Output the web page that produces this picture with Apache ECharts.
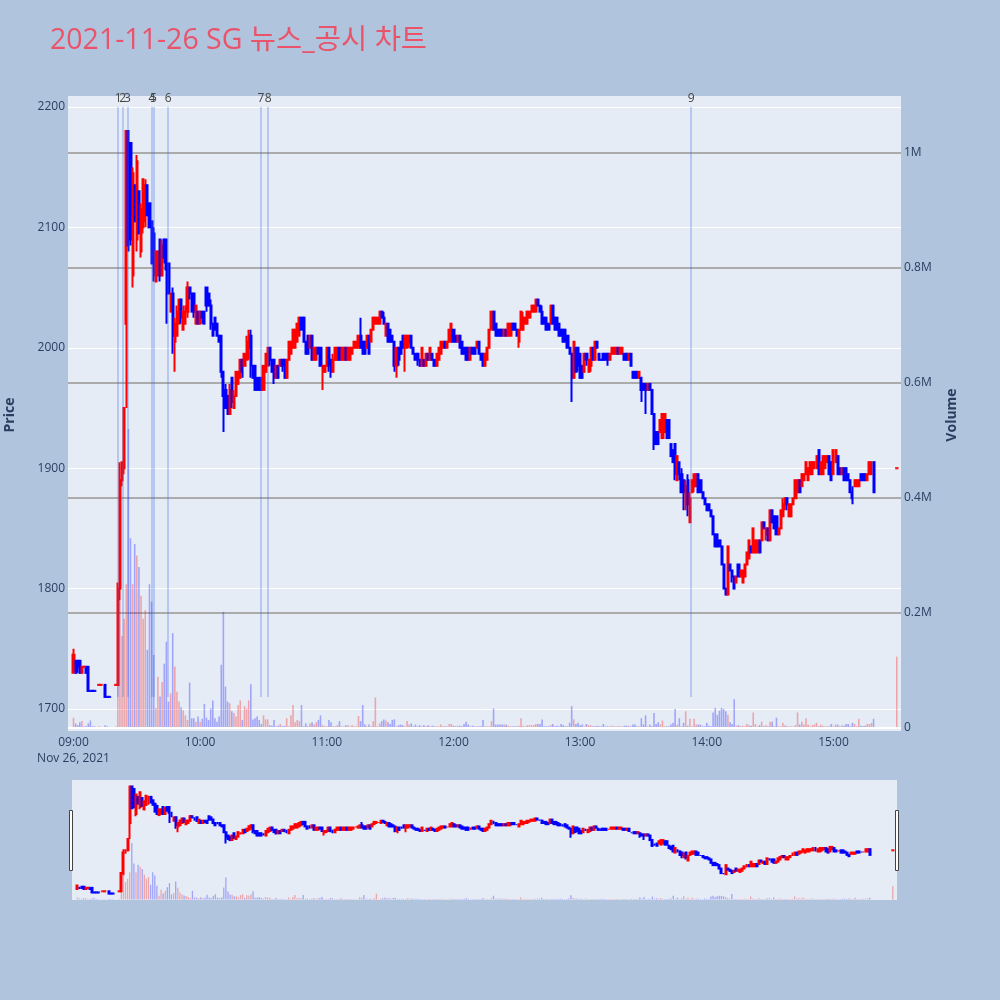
<!DOCTYPE html>
<html><head><meta charset="utf-8">
<script src="https://cdn.jsdelivr.net/npm/echarts@6/dist/echarts.min.js"></script>
<style>html,body{margin:0;padding:0;background:#B0C4DE;}#c{width:1000px;height:1000px;}</style>
</head><body><div id="c"></div>
<script>
// ---- DATA (one entry per minute from 09:00; null = no trade that minute) ----
const chartTitle = '2021-11-26 SG 뉴스_공시 차트';
const dateLabel = 'Nov 26, 2021';
const hourTickMinutes = [0, 60, 120, 180, 240, 300, 360];
const newsMinutes = [21.2, 23.3, 25.5, 37.2, 37.9, 44.8, 88.8, 92.2, 292.6];
const newsLabels = ['1', '2', '3', '4', '5', '6', '7', '8', '9'];
const newsLineLow = 1710, newsLineHigh = 2200;

const openPrice = [
1730,1740,1740,1740,1730,1735,1735,1735,1715,1715,
1715,null,1720,1720,null,1720,1710,1710,null,null,
1720,1720,1800,1890,1900,2020,2180,2170,2060,2135,
2090,2130,2080,2100,2105,2135,2120,2105,2095,2055,
2060,2090,2060,2090,2090,2070,2030,2045,2005,2010,
2020,2040,2015,2020,2030,2050,2045,2045,2020,2030,
2020,2030,2030,2050,2045,2035,2020,2025,2020,2010,
2010,1980,1965,1960,1945,1975,1950,1960,1970,1975,
1990,1985,1990,2000,2010,1985,1985,1975,1975,1975,
1965,1980,1985,2000,1990,1990,1975,1985,1985,1990,
1990,1975,1990,1995,2000,2000,2005,2010,2025,2025,
2005,2010,2000,2010,1990,1990,2000,2000,1980,1980,
1985,2000,1990,1980,1990,1990,2000,1990,1990,2000,
1990,1990,1995,2000,2000,2000,2010,2005,2005,2000,
2010,2005,2015,2020,2020,2020,2030,2025,2010,2020,
2015,2010,2005,1985,2000,2005,2010,2000,2000,2005,
2010,2000,1995,1995,1990,1985,1990,1985,1995,1990,
1995,1990,1985,1990,1995,2000,2005,2000,2005,2005,
2015,2010,2005,2010,2005,2000,2000,2000,1990,2000,
2000,2000,2005,1995,1995,1985,1990,2000,2015,2030,
2020,2015,2015,2015,2010,2015,2010,2010,2020,2020,
2015,2005,2015,2015,2020,2020,2025,2030,2030,2030,
2040,2035,2030,2025,2025,2020,2020,2035,2025,2025,
2020,2015,2015,2015,2010,2000,1995,1975,2000,2000,
1995,1985,1980,1995,1980,1985,2000,1990,2005,1995,
1990,1995,1995,1995,1990,1995,1995,1995,2000,1995,
1995,1995,1995,1990,1995,1980,1980,1980,1975,1975,
1970,1970,1965,1970,1965,1945,1930,1930,1930,1925,
1930,1940,1940,1920,1915,1920,1890,1905,1895,1890,
1870,1890,1855,1880,1885,1885,1895,1890,1880,1875,
1870,1870,1865,1860,1845,1845,1840,1835,1820,1800,
1795,1820,1815,1810,1805,1820,1810,1805,1810,1820,
1825,1835,1830,1830,1830,1840,1840,1855,1845,1850,
1840,1865,1860,1860,1845,1850,1860,1870,1875,1860,
1860,1870,1875,1880,1890,1885,1890,1895,1890,1895,
1895,1900,1900,1915,1895,1895,1900,1905,1910,1905,
1895,1905,1910,1900,1895,1900,1900,1895,1890,1880,
1885,1885,1885,1895,1895,1895,1890,1895,1895,1905,
null,null,null,null,null,null,null,null,null,null,
1900];

const highPrice = [
1750,1740,1740,1740,1735,1735,1735,1735,1715,1715,
1715,null,1720,1720,null,1720,1710,1710,null,null,
1720,1805,1905,1905,1950,2180,2180,2170,2150,2135,
2160,2130,2120,2140,2140,2135,2120,2105,2100,2080,
2080,2090,2090,2090,2090,2070,2045,2050,2025,2035,
2040,2040,2035,2035,2055,2050,2045,2045,2035,2030,
2030,2030,2030,2050,2045,2040,2020,2025,2020,2010,
2010,1980,1970,1960,1970,1975,1965,1980,1980,1990,
1990,1995,2010,2015,2015,1985,1985,1975,1975,1975,
1985,1995,2000,2000,1990,1990,1985,1985,1990,1990,
1990,1990,2005,2005,2015,2015,2020,2025,2025,2025,
2005,2010,2010,2010,2000,2000,2000,2000,1985,1985,
2000,2000,1990,1995,2000,2000,2000,2000,2000,2000,
2000,2000,2000,2005,2005,2010,2025,2005,2005,2010,
2010,2015,2025,2025,2025,2030,2030,2030,2020,2020,
2015,2010,2005,2000,2000,2005,2010,2010,2010,2010,
2010,2000,1995,1995,1990,2000,1990,1995,1995,2000,
1995,1990,1995,2000,2005,2005,2005,2005,2015,2020,
2015,2010,2010,2010,2005,2000,2000,2000,2000,2000,
2000,2005,2005,1995,1995,1995,2000,2015,2030,2030,
2020,2015,2015,2015,2015,2015,2020,2020,2020,2020,
2015,2015,2030,2030,2025,2030,2030,2035,2035,2040,
2040,2035,2035,2025,2025,2020,2035,2035,2025,2025,
2020,2015,2015,2015,2010,2000,1995,2005,2000,2000,
1995,1985,1995,1995,1990,2000,2000,2005,2005,1995,
1990,1995,1995,1995,1995,2000,2000,2000,2000,2000,
2000,1995,1995,1995,1995,1980,1980,1980,1980,1975,
1970,1970,1970,1970,1965,1945,1930,1930,1940,1945,
1945,1940,1940,1920,1915,1920,1910,1905,1900,1890,
1890,1895,1880,1890,1895,1895,1895,1890,1880,1875,
1870,1870,1865,1860,1845,1845,1840,1835,1820,1800,
1835,1820,1815,1810,1810,1820,1815,1815,1820,1830,
1840,1835,1850,1840,1840,1840,1855,1855,1850,1850,
1865,1865,1860,1860,1850,1865,1875,1875,1875,1870,
1870,1875,1890,1890,1890,1895,1895,1905,1900,1905,
1905,1905,1910,1915,1905,1910,1910,1910,1910,1905,
1915,1915,1910,1900,1900,1900,1900,1895,1890,1885,
1890,1890,1890,1895,1895,1895,1895,1905,1905,1905,
null,null,null,null,null,null,null,null,null,null,
1900];

const lowPrice = [
1730,1730,1730,1730,1730,1735,1730,1715,1715,1715,
1715,null,1720,1720,null,1710,1710,1710,null,null,
1720,1720,1790,1885,1895,1950,2080,2085,2050,2105,
2080,2095,2075,2095,2100,2110,2100,2070,2055,2055,
2060,2055,2060,2070,2020,2045,2030,1995,1980,2010,
2020,2020,2015,2020,2025,2040,2030,2025,2020,2020,
2020,2020,2020,2030,2035,2015,2010,2015,2010,2005,
1975,1930,1950,1945,1945,1950,1950,1960,1970,1975,
1975,1985,1990,1990,1975,1975,1965,1965,1965,1965,
1965,1980,1985,1985,1980,1970,1975,1975,1985,1980,
1975,1975,1990,1995,2000,2000,2005,2010,2015,2005,
1995,1995,2000,1990,1990,1990,1995,1985,1965,1980,
1985,1980,1975,1980,1990,1990,1990,1990,1990,1990,
1990,1990,1995,2000,2000,2000,2000,1995,1995,2000,
1995,2005,2015,2020,2020,2020,2025,2020,2010,2005,
2005,2005,1980,1975,1985,1995,2000,1980,2000,2000,
2000,1995,1990,1985,1985,1985,1985,1985,1990,1990,
1990,1985,1985,1990,1995,2000,2000,2000,2005,2005,
2005,2005,2005,2000,1995,1995,1990,1990,1990,1995,
1995,2000,1995,1990,1985,1985,1990,2000,2015,2015,
2010,2010,2010,2010,2010,2010,2010,2010,2015,2015,
2010,2000,2015,2015,2020,2020,2025,2030,2030,2030,
2035,2030,2020,2020,2015,2015,2020,2020,2015,2015,
2010,2010,2005,2005,2000,1995,1955,1975,1980,1980,
1975,1975,1980,1985,1980,1980,1990,1990,2000,1990,
1990,1990,1990,1985,1990,1995,1995,1995,1995,1995,
1995,1990,1990,1990,1985,1975,1975,1975,1975,1955,
1965,1945,1965,1965,1945,1915,1920,1920,1930,1925,
1930,1925,1925,1910,1905,1890,1890,1890,1880,1865,
1865,1860,1855,1880,1880,1885,1880,1880,1875,1870,
1865,1865,1860,1845,1835,1835,1835,1820,1800,1795,
1795,1815,1805,1800,1805,1810,1810,1805,1810,1820,
1825,1830,1830,1830,1830,1830,1840,1850,1840,1840,
1840,1855,1850,1845,1845,1850,1860,1865,1865,1860,
1860,1870,1875,1880,1880,1885,1890,1895,1890,1895,
1895,1900,1900,1895,1895,1895,1900,1905,1895,1890,
1895,1905,1895,1895,1895,1890,1890,1890,1880,1870,
1885,1885,1885,1890,1890,1890,1890,1895,1895,1880,
null,null,null,null,null,null,null,null,null,null,
1900];

const closePrice = [
1745,1730,1735,1730,1735,1735,1730,1715,1715,1715,
1715,null,1720,1720,null,1710,1710,1710,null,null,
1720,1800,1890,1905,1950,2180,2085,2090,2145,2105,
2155,2095,2115,2140,2135,2110,2100,2070,2060,2080,
2080,2060,2085,2075,2065,2045,2045,2010,2020,2030,
2040,2025,2030,2030,2050,2045,2030,2030,2035,2020,
2030,2025,2020,2035,2035,2020,2010,2015,2010,2005,
1980,1960,1950,1945,1965,1955,1960,1980,1980,1990,
1980,1995,2005,2010,1985,1975,1965,1965,1965,1965,
1985,1995,2000,1990,1980,1975,1985,1975,1990,1985,
1975,1990,2005,2005,2015,2015,2020,2025,2015,2005,
1995,1995,2010,1990,2000,2000,1995,1985,1985,1985,
2000,1985,1980,1990,2000,2000,1990,2000,2000,1990,
2000,2000,2000,2005,2005,2010,2000,1995,1995,2010,
1995,2015,2025,2025,2025,2030,2025,2020,2020,2005,
2005,2005,1985,2000,1990,1995,2000,2010,2010,2010,
2000,1995,1990,1990,1985,2000,1985,1995,1990,2000,
1990,1985,1995,2000,2005,2005,2000,2005,2015,2020,
2005,2005,2010,2000,1995,1995,1990,1990,2000,1995,
1995,2005,1995,1990,1985,1995,2000,2015,2030,2015,
2010,2010,2010,2010,2015,2010,2020,2020,2015,2015,
2010,2015,2030,2025,2025,2030,2030,2035,2035,2040,
2035,2030,2020,2020,2015,2015,2035,2020,2015,2015,
2010,2010,2005,2005,2000,1995,1975,2005,1980,1985,
1975,1975,1995,1990,1990,2000,1990,2005,2000,1990,
1990,1990,1990,1990,1995,2000,2000,2000,1995,2000,
2000,1990,1990,1995,1985,1975,1975,1975,1980,1965,
1965,1965,1970,1965,1945,1920,1920,1920,1940,1945,
1945,1925,1925,1910,1905,1895,1910,1895,1880,1880,
1885,1870,1875,1890,1895,1895,1880,1880,1875,1870,
1865,1865,1860,1845,1835,1835,1835,1820,1800,1795,
1835,1815,1810,1800,1810,1810,1815,1815,1820,1830,
1840,1830,1850,1840,1840,1830,1855,1850,1850,1840,
1865,1855,1850,1845,1850,1865,1870,1875,1870,1870,
1870,1875,1890,1890,1880,1895,1895,1905,1900,1905,
1905,1905,1910,1895,1905,1910,1910,1910,1895,1890,
1915,1915,1895,1895,1900,1890,1890,1890,1880,1875,
1890,1890,1890,1890,1890,1890,1895,1905,1905,1880,
null,null,null,null,null,null,null,null,null,null,
1900];

const volumeThousands = [
18,8,5,10,12,3,3,8,13,3,
3,null,3,2,null,5,3,2,null,null,
3,180,220,160,190,250,520,330,250,320,
300,280,230,190,205,136,250,220,127,35,
89,55,80,112,150,46,60,165,107,63,
46,36,31,22,14,79,17,17,11,20,
11,16,42,18,14,34,48,17,11,20,
110,202,72,46,43,29,26,20,40,48,
14,38,34,48,76,15,17,20,14,7,
22,15,15,5,4,14,3,4,7,3,
4,17,3,22,40,10,14,12,40,3,
8,3,8,10,6,10,14,22,5,3,
3,14,10,3,3,5,12,3,3,5,
5,3,5,3,3,21,12,40,6,3,
6,3,12,53,3,8,12,15,13,10,
7,14,15,3,5,6,5,3,12,6,
8,3,6,3,5,3,5,3,5,3,
4,3,3,3,6,3,3,3,7,7,
4,3,4,4,3,7,11,6,3,4,
3,3,3,3,14,3,3,3,12,34,
6,6,6,6,6,6,4,3,3,3,
3,4,17,4,3,5,5,5,5,7,
7,7,15,3,3,3,5,7,3,4,
3,7,5,3,3,9,38,15,7,9,
5,6,3,7,5,5,3,3,4,3,
3,7,3,3,3,4,3,3,3,3,
3,4,4,4,3,6,6,3,3,17,
6,22,3,6,3,26,7,10,6,13,
3,3,3,6,9,33,6,17,3,9,
29,4,16,3,16,6,6,6,3,3,
9,4,3,27,35,23,30,35,33,29,
23,10,7,50,4,5,3,4,3,7,
5,4,27,7,3,5,11,3,5,3,
11,11,3,18,3,3,9,5,3,3,
3,3,5,27,6,11,6,17,6,3,
5,6,9,3,6,4,3,3,3,7,
3,6,6,3,5,4,7,7,3,9,
7,3,16,4,3,4,7,7,9,16,
null,null,null,null,null,null,null,null,null,null,
124];

// ---- STYLE / LAYOUT ----
const FONT = '"Open Sans", "Noto Sans CJK KR", sans-serif';
const UP = '#FF0000', DOWN = '#0000FF';
const UP_VOL = 'rgba(255,0,0,0.3)', DOWN_VOL = 'rgba(0,0,255,0.3)';
const X_MIN = -2.6, X_MAX = 392.0;
const P_MIN = 1681.7, P_MAX = 2209.1;
const V_MIN = -5200, V_MAX = 1099000;
const TICK_COLOR = '#2a3f5f';

const candleData = [], volData = [], flatData = [];
let prevClose = null, prevDir = 1;
for (let i = 0; i < openPrice.length; i++) {
  if (openPrice[i] == null) continue;
  const o = openPrice[i], c = closePrice[i];
  let dir;
  if (c > o) dir = 1;
  else if (c < o) dir = -1;
  else if (prevClose != null && c > prevClose) dir = 1;
  else if (prevClose != null && c < prevClose) dir = -1;
  else dir = prevDir;
  prevDir = dir; prevClose = c;
  const col = dir > 0 ? UP : DOWN;
  candleData.push({ value: [i, o, c, lowPrice[i], highPrice[i]],
    itemStyle: { color: col, color0: col, borderColor: col, borderColor0: col } });
  if (o === c) flatData.push({ value: [i, c], itemStyle: { color: col } });
  volData.push({ value: [i, volumeThousands[i] * 1000],
    itemStyle: { color: dir > 0 ? UP_VOL : DOWN_VOL } });
}

function pad(n) { return (n < 10 ? '0' : '') + n; }
function timeLabel(v) {
  const h = 9 + Math.floor(v / 60), m = Math.round(v % 60);
  const s = pad(h) + ':' + pad(m);
  return v === 0 ? s + '\n' + dateLabel : s;
}

const chart = echarts.init(document.getElementById('c'));
const option = {
  backgroundColor: '#B0C4DE',
  animation: false,
  textStyle: { fontFamily: FONT },
  grid: [
    { left: 68, top: 96, width: 833, height: 635, show: true, backgroundColor: '#E5ECF6', borderWidth: 0 },
    { left: 72, top: 780, width: 825, height: 120, show: true, backgroundColor: '#E5ECF6', borderWidth: 0 }
  ],
  xAxis: [
    { type: 'value', gridIndex: 0, min: X_MIN, max: X_MAX,
      axisLine: { show: false }, axisTick: { show: false }, splitLine: { show: false },
      axisLabel: { customValues: hourTickMinutes, formatter: timeLabel, color: TICK_COLOR,
        fontSize: 12, fontFamily: FONT, margin: 4, lineHeight: 16 } },
    { type: 'value', gridIndex: 1, min: X_MIN, max: X_MAX, show: false, splitLine: { show: false } }
  ],
  yAxis: [
    { type: 'value', gridIndex: 0, min: P_MIN, max: P_MAX, splitNumber: 5, position: 'left',
      axisLine: { show: false }, axisTick: { show: false },
      axisLabel: { showMinLabel: false, showMaxLabel: false, color: TICK_COLOR, fontSize: 12, fontFamily: FONT, margin: 3,
        formatter: v => String(Math.round(v)) },
      splitLine: { show: true, showMinLine: false, showMaxLine: false, lineStyle: { color: '#FFFFFF', width: 1 } } },
    { type: 'value', gridIndex: 0, min: V_MIN, max: V_MAX, splitNumber: 5, position: 'right',
      axisLine: { show: false }, axisTick: { show: false },
      axisLabel: { showMinLabel: false, showMaxLabel: false, color: TICK_COLOR, fontSize: 12, fontFamily: FONT, margin: 3,
        formatter: v => v === 0 ? '0' : (v / 1e6) + 'M' },
      splitLine: { show: true, showMinLine: false, showMaxLine: false, lineStyle: { color: '#ABABAB', width: 2 } } },
    { type: 'value', gridIndex: 1, min: P_MIN, max: P_MAX, show: false, splitLine: { show: false } },
    { type: 'value', gridIndex: 1, min: V_MIN, max: V_MAX, show: false, splitLine: { show: false } }
  ],
  series: [
    { type: 'line', xAxisIndex: 0, yAxisIndex: 0, data: [], z: 1, silent: true,
      markLine: { silent: true, symbol: 'none', animation: false,
        lineStyle: { color: 'rgba(65,105,225,0.38)', width: 1.5, type: 'solid' },
        label: { show: true, position: 'end', formatter: '{b}', color: '#444', fontSize: 12, fontFamily: FONT, distance: 2 },
        emphasis: { disabled: true },
        data: newsMinutes.map((t, i) => [{ name: newsLabels[i], coord: [t, newsLineLow] }, { coord: [t, newsLineHigh] }]) } },
    { type: 'bar', xAxisIndex: 0, yAxisIndex: 1, data: volData, barWidth: 1.6, z: 2, silent: true,
      markLine: { silent: true, symbol: 'none', label: { show: false }, animation: false,
        lineStyle: { color: '#FFFFFF', width: 2, type: 'solid' }, data: [{ yAxis: 0 }] } },
    { type: 'candlestick', xAxisIndex: 0, yAxisIndex: 0, data: candleData, barWidth: 1.6, z: 3, silent: true,
      encode: { x: 0, y: [1, 2, 3, 4] }, itemStyle: { borderWidth: 2 } },
    { type: 'scatter', xAxisIndex: 0, yAxisIndex: 0, data: flatData, symbol: 'rect', symbolSize: [3.6, 2.2], z: 4, silent: true },
    { type: 'bar', xAxisIndex: 1, yAxisIndex: 3, data: volData, barWidth: 1.3, z: 2, silent: true },
    { type: 'candlestick', xAxisIndex: 1, yAxisIndex: 2, data: candleData, barWidth: 1.4, z: 3, silent: true,
      encode: { x: 0, y: [1, 2, 3, 4] }, itemStyle: { borderWidth: 2 } },
    { type: 'scatter', xAxisIndex: 1, yAxisIndex: 2, data: flatData, symbol: 'rect', symbolSize: [3.4, 2], z: 4, silent: true }
  ],
  graphic: [
    { type: 'text', left: 50, top: 27, style: { text: chartTitle, fill: '#E9546B', font: '28.5px ' + FONT } },
    { type: 'text', x: 10, y: 415, rotation: Math.PI / 2,
      style: { text: 'Price', fill: '#2a3f5f', font: 'bold 14px ' + FONT, align: 'center', verticalAlign: 'middle' } },
    { type: 'text', x: 952, y: 415, rotation: Math.PI / 2,
      style: { text: 'Volume', fill: '#2a3f5f', font: 'bold 14px ' + FONT, align: 'center', verticalAlign: 'middle' } },
    { type: 'rect', shape: { x: 69.5, y: 810.5, width: 3, height: 60 }, style: { fill: '#FFFFFF', stroke: '#444', lineWidth: 1 } },
    { type: 'rect', shape: { x: 895.5, y: 810.5, width: 3, height: 60 }, style: { fill: '#FFFFFF', stroke: '#444', lineWidth: 1 } }
  ]
};
chart.setOption(option);
</script>
</body></html>
